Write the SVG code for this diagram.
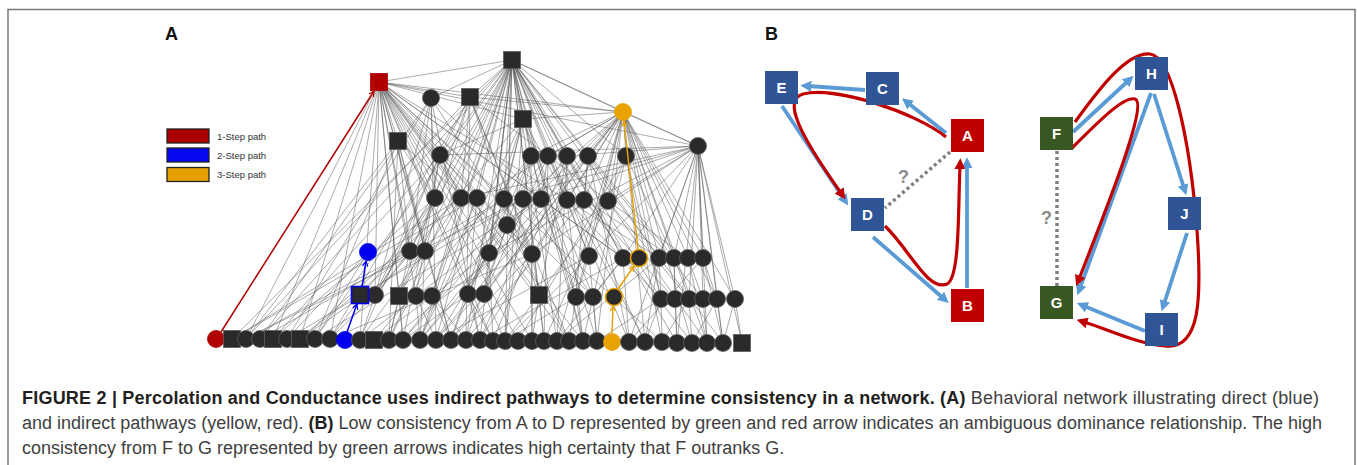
<svg xmlns="http://www.w3.org/2000/svg" width="1357" height="465" viewBox="0 0 1357 465">
<style>
  .frame{fill:none;stroke:#777;stroke-width:1.5}
  .plabel{font-family:"Liberation Sans",Arial,sans-serif;font-weight:bold;font-size:18px;fill:#111}
  .e{fill:none;stroke:#555;stroke-opacity:0.55;stroke-width:0.9}
  .n{fill:#2a2a2a;stroke:#5e5e5e;stroke-width:0.8}
  .lg{stroke:#222;stroke-width:1.3}
  .lgt{font-family:"Liberation Sans",Arial,sans-serif;font-size:9.5px;fill:#333}
  .bn{stroke:none}
  .blue{fill:#2F5597}
  .red{fill:#C00000}
  .green{fill:#385723}
  .bt{font-family:"Liberation Sans",Arial,sans-serif;font-weight:bold;font-size:15px;fill:#fff;text-anchor:middle}
  .ba{fill:none;stroke:#5B9BD5;stroke-width:3.8;marker-end:url(#mb)}
  .ra{fill:none;stroke:#C00000;stroke-width:3.2;marker-end:url(#mr)}
  .dot{fill:none;stroke:#7f7f7f;stroke-width:3.5;stroke-dasharray:3 3}
  .q{font-family:"Liberation Sans",Arial,sans-serif;font-weight:bold;font-size:18px;fill:#8a8a8a}
  .cap{font-family:"Liberation Sans",Arial,sans-serif;font-size:18px;fill:#404040}
  .cap .b{font-weight:bold;fill:#231f20}
</style>
<defs>
  <marker id="mb" viewBox="0 0 10 10" refX="3" refY="5" markerWidth="11" markerHeight="11" markerUnits="userSpaceOnUse" orient="auto">
    <path d="M0,0 L10,5 L0,10 z" fill="#5B9BD5"/>
  </marker>
  <marker id="mr" viewBox="0 0 10 10" refX="3" refY="5" markerWidth="11" markerHeight="11" markerUnits="userSpaceOnUse" orient="auto">
    <path d="M0,0 L10,5 L0,10 z" fill="#C00000"/>
  </marker>
  <marker id="vr" viewBox="0 0 8 8" refX="7" refY="4" markerWidth="7" markerHeight="7" markerUnits="userSpaceOnUse" orient="auto">
    <path d="M1,1 L7,4 L1,7" fill="none" stroke="#B00000" stroke-width="1.4"/>
  </marker>
  <marker id="vb" viewBox="0 0 8 8" refX="7" refY="4" markerWidth="7" markerHeight="7" markerUnits="userSpaceOnUse" orient="auto">
    <path d="M1,1 L7,4 L1,7" fill="none" stroke="#0000EE" stroke-width="1.4"/>
  </marker>
  <marker id="vy" viewBox="0 0 8 8" refX="7" refY="4" markerWidth="7" markerHeight="7" markerUnits="userSpaceOnUse" orient="auto">
    <path d="M1,1 L7,4 L1,7" fill="none" stroke="#E6A000" stroke-width="1.4"/>
  </marker>
</defs>

<rect width="1357" height="465" fill="#fff"/>
<rect class="frame" x="8" y="9.5" width="1347" height="470"/>

<text class="plabel" x="165" y="40">A</text>
<text class="plabel" x="765" y="40">B</text>

<!-- Panel A: network edges -->
<g id="a-connectors">
  <path class="e" d="M512 60L379 82M512 60L431 98M512 60L470 97M512 60L523 119M512 60L623 112M512 60L698 146M512 60L440 155M512 60L531 156M512 60L548 156M512 60L567 156M512 60L626 156M512 60L461 198M512 60L477 198M512 60L504 199M512 60L541 199M512 60L584 200M512 60L507 225M512 60L410 251M512 60L489 253M512 60L589 256M512 60L623 258M512 60L674 258M512 60L375 295M512 60L399 296M512 60L432 296M512 60L484 294M512 60L539 295M512 60L576 297M512 60L661 299M512 60L703 299M512 60L260 339M512 60L315 339M512 60L389 340M512 60L420 340M512 60L436 340M512 60L466 340M512 60L480 340M512 60L505 341M512 60L544 341M512 60L557 341M512 60L583 341M512 60L629 342M512 60L677 343M512 60L723 343"/>
  <path class="e" d="M379 82L470 97M379 82L523 119M379 82L623 112M379 82L698 146M379 82L398 141M379 82L440 155M379 82L435 198M379 82L461 198M379 82L504 199M379 82L541 199M379 82L567 200M379 82L410 251M379 82L425 251M379 82L489 253M379 82L532 254M379 82L623 258M379 82L375 295M379 82L399 296M379 82L416 296M379 82L468 294M379 82L539 295M379 82L593 297M379 82L246 339M379 82L273 339M379 82L300 339M379 82L330 339M379 82L360 340M379 82L403 340M379 82L451 340M379 82L493 341M379 82L532 341M379 82L569 341M379 82L662 342"/>
  <path class="e" d="M623 112L531 156M623 112L548 156M623 112L588 156M623 112L626 156M623 112L477 198M623 112L523 199M623 112L584 200M623 112L608 201M623 112L507 225M623 112L532 254M623 112L589 256M623 112L659 258M623 112L688 258M623 112L703 258M623 112L484 294M623 112L576 297M623 112L661 299M623 112L689 299M623 112L717 299M623 112L735 299M623 112L420 340M623 112L480 340M623 112L557 341M623 112L597 341M623 112L645 342M623 112L692 343M623 112L707 343M623 112L698 146M623 112L523 119M623 112L470 97"/>
  <path class="e" d="M698 146L440 155M698 146L461 198M698 146L504 199M698 146L541 199M698 146L608 201M698 146L567 156M698 146L489 253M698 146L589 256M698 146L674 258M698 146L703 258M698 146L689 299M698 146L703 299M698 146L717 299M698 146L735 299M698 146L629 342M698 146L677 343M698 146L707 343M698 146L723 343M698 146L742 343"/>
  <path class="e" d="M431 98L435 198M431 98L410 251M431 98L375 295M431 98L287 339M431 98L436 340M431 98L480 340M431 98L541 199M431 98L532 254M470 97L440 155M470 97L461 198M470 97L504 199M470 97L425 251M470 97L532 254M470 97L399 296M470 97L330 339M470 97L466 340M470 97L569 341M470 97L608 201M523 119L504 199M523 119L567 200M523 119L489 253M523 119L593 297M523 119L505 341M523 119L597 341M523 119L440 155M523 119L375 295M398 141L435 198M398 141L410 251M398 141L425 251M398 141L315 339M398 141L389 340M398 141L246 339M398 141L451 340M398 141L532 254"/>
  <path class="e" d="M440 155L461 198M440 155L477 198M440 155L375 295M440 155L416 296M440 155L403 340M440 155L360 340M440 155L532 254M531 156L504 199M531 156L523 199M531 156L507 225M531 156L468 294M531 156L532 341M531 156L583 341M548 156L541 199M548 156L589 256M548 156L484 294M548 156L544 341M548 156L645 342M567 156L567 200M567 156L623 258M567 156L539 295M567 156L557 341M567 156L493 341M588 156L584 200M588 156L608 201M588 156L659 258M588 156L576 297M588 156L629 342M626 156L608 201M626 156L674 258M626 156L661 299M626 156L662 342M626 156L518 341"/>
  <path class="e" d="M435 198L410 251M435 198L375 295M435 198L273 339M435 198L330 339M461 198L425 251M461 198L432 296M461 198L389 340M461 198L300 339M477 198L489 253M477 198L468 294M477 198L420 340M477 198L232 339M504 199L532 254M504 199L539 295M504 199L451 340M504 199L260 339M523 199L589 256M523 199L593 297M523 199L505 341M523 199L287 339M541 199L623 258M541 199L576 297M541 199L480 340M541 199L315 339M567 200L659 258M567 200L661 299M567 200L583 341M567 200L436 340M584 200L674 258M584 200L675 299M584 200L692 343M608 201L688 258M608 201L689 299M608 201L707 343M608 201L544 341M507 225L489 253M507 225L484 294M507 225L466 340M507 225L569 341M507 225L403 340"/>
  <path class="e" d="M410 251L375 295M410 251L389 340M410 251L246 339M425 251L399 296M425 251L420 340M425 251L360 340M489 253L468 294M489 253L493 341M489 253L374 340M532 254L539 295M532 254L532 341M532 254L451 340M589 256L576 297M589 256L597 341M589 256L505 341M623 258L593 297M623 258L629 342M623 258L557 341M659 258L661 299M659 258L645 342M674 258L675 299M674 258L677 343M688 258L703 299M688 258L707 343M703 258L717 299M703 258L723 343M368 252L315 339M368 252L287 339"/>
  <path class="e" d="M375 295L360 340M375 295L330 339M399 296L389 340M399 296L403 340M416 296L420 340M416 296L436 340M432 296L451 340M432 296L466 340M468 294L480 340M468 294L493 341M484 294L505 341M539 295L532 341M539 295L544 341M576 297L569 341M576 297L583 341M593 297L597 341M661 299L662 342M661 299L645 342M675 299L677 343M689 299L692 343M703 299L707 343M717 299L723 343M735 299L742 343"/>
  <path class="e" d="M532 254L330 339M589 256L436 340M623 258L480 340M659 258L557 341M703 258L629 342M541 199L360 340M567 200L389 340M584 200L466 340M608 201L505 341M523 199L246 339M504 199L300 339M461 198L232 339M548 156L403 340M567 156L420 340M588 156L451 340M531 156L374 340M626 156L583 341M440 155L273 339M431 98L260 339M470 97L246 339M523 119L420 340M523 119L451 340M698 146L532 254M698 146L623 258M698 146L659 258M623 112L436 340M512 60L232 339M512 60L645 342M379 82L583 341M379 82L518 341M410 251L300 339M489 253L436 340M468 294L403 340M576 297L505 341M661 299L597 341M689 299L662 342M735 299L723 343M717 299L692 343"/>
</g>

<!-- Panel A: nodes -->
<g id="a-n-t1"><rect class="n" x="370.5" y="73.5" width="17" height="17" style="fill:#B00000;stroke:#B00000"/></g>
<g id="a-n-t2"><rect class="n" x="503.5" y="51.5" width="17" height="17"/></g>
<g id="a-n-n1"><circle class="n" cx="431" cy="98" r="8.5"/></g>
<g id="a-n-n2"><rect class="n" x="461.5" y="88.5" width="17" height="17"/></g>
<g id="a-n-n3"><rect class="n" x="514.5" y="110.5" width="17" height="17"/></g>
<g id="a-n-y1"><circle class="n" cx="623" cy="112" r="8.5" style="fill:#E8A300;stroke:#E8A300"/></g>
<g id="a-n-n4"><rect class="n" x="389.5" y="132.5" width="17" height="17"/></g>
<g id="a-n-n5"><circle class="n" cx="698" cy="146" r="8.5"/></g>
<g id="a-n-a1"><circle class="n" cx="440" cy="155" r="8.5"/></g>
<g id="a-n-a2"><circle class="n" cx="531" cy="156" r="8.5"/></g>
<g id="a-n-a3"><circle class="n" cx="548" cy="156" r="8.5"/></g>
<g id="a-n-a4"><circle class="n" cx="567" cy="156" r="8.5"/></g>
<g id="a-n-a5"><circle class="n" cx="588" cy="156" r="8.5"/></g>
<g id="a-n-a6"><circle class="n" cx="626" cy="156" r="8.5"/></g>
<g id="a-n-b1"><circle class="n" cx="435" cy="198" r="8.5"/></g>
<g id="a-n-b2"><circle class="n" cx="461" cy="198" r="8.5"/></g>
<g id="a-n-b3"><circle class="n" cx="477" cy="198" r="8.5"/></g>
<g id="a-n-b4"><circle class="n" cx="504" cy="199" r="8.5"/></g>
<g id="a-n-b5"><circle class="n" cx="523" cy="199" r="8.5"/></g>
<g id="a-n-b6"><circle class="n" cx="541" cy="199" r="8.5"/></g>
<g id="a-n-b7"><circle class="n" cx="567" cy="200" r="8.5"/></g>
<g id="a-n-b8"><circle class="n" cx="584" cy="200" r="8.5"/></g>
<g id="a-n-b9"><circle class="n" cx="608" cy="201" r="8.5"/></g>
<g id="a-n-b10"><circle class="n" cx="507" cy="225" r="8.5"/></g>
<g id="a-n-c1"><circle class="n" cx="368" cy="252" r="8.5" style="fill:#0000EE;stroke:#0000EE"/></g>
<g id="a-n-c2"><circle class="n" cx="410" cy="251" r="8.5"/></g>
<g id="a-n-c3"><circle class="n" cx="425" cy="251" r="8.5"/></g>
<g id="a-n-c4"><circle class="n" cx="489" cy="253" r="8.5"/></g>
<g id="a-n-c5"><circle class="n" cx="532" cy="254" r="8.5"/></g>
<g id="a-n-c6"><circle class="n" cx="589" cy="256" r="8.5"/></g>
<g id="a-n-c7"><circle class="n" cx="623" cy="258" r="8.5"/></g>
<g id="a-n-c8"><circle class="n" cx="639" cy="258" r="8.5" style="stroke:#E8A300;stroke-width:1.6"/></g>
<g id="a-n-c9"><circle class="n" cx="659" cy="258" r="8.5"/></g>
<g id="a-n-c10"><circle class="n" cx="674" cy="258" r="8.5"/></g>
<g id="a-n-c11"><circle class="n" cx="688" cy="258" r="8.5"/></g>
<g id="a-n-c12"><circle class="n" cx="703" cy="258" r="8.5"/></g>
<g id="a-n-d2"><circle class="n" cx="375" cy="295" r="8.5"/></g>
<g id="a-n-d1"><rect class="n" x="351.5" y="286.5" width="17" height="17" style="stroke:#0000EE;stroke-width:1.6"/></g>
<g id="a-n-d3"><rect class="n" x="390.5" y="287.5" width="17" height="17"/></g>
<g id="a-n-d4"><circle class="n" cx="416" cy="296" r="8.5"/></g>
<g id="a-n-d5"><circle class="n" cx="432" cy="296" r="8.5"/></g>
<g id="a-n-d6"><circle class="n" cx="468" cy="294" r="8.5"/></g>
<g id="a-n-d7"><circle class="n" cx="484" cy="294" r="8.5"/></g>
<g id="a-n-d8"><rect class="n" x="530.5" y="286.5" width="17" height="17"/></g>
<g id="a-n-d9"><circle class="n" cx="576" cy="297" r="8.5"/></g>
<g id="a-n-d10"><circle class="n" cx="593" cy="297" r="8.5"/></g>
<g id="a-n-d11"><circle class="n" cx="614" cy="297" r="8.5" style="stroke:#E8A300;stroke-width:1.6"/></g>
<g id="a-n-d12"><circle class="n" cx="661" cy="299" r="8.5"/></g>
<g id="a-n-d13"><circle class="n" cx="675" cy="299" r="8.5"/></g>
<g id="a-n-d14"><circle class="n" cx="689" cy="299" r="8.5"/></g>
<g id="a-n-d15"><circle class="n" cx="703" cy="299" r="8.5"/></g>
<g id="a-n-d16"><circle class="n" cx="717" cy="299" r="8.5"/></g>
<g id="a-n-d17"><circle class="n" cx="735" cy="299" r="8.5"/></g>
<g id="a-n-e1"><circle class="n" cx="216" cy="339" r="8.5" style="fill:#B00000;stroke:#B00000"/></g>
<g id="a-n-e2"><rect class="n" x="223.5" y="330.5" width="17" height="17"/></g>
<g id="a-n-e3"><circle class="n" cx="246" cy="339" r="8.5"/></g>
<g id="a-n-e4"><circle class="n" cx="260" cy="339" r="8.5"/></g>
<g id="a-n-e5"><rect class="n" x="264.5" y="330.5" width="17" height="17"/></g>
<g id="a-n-e6"><circle class="n" cx="287" cy="339" r="8.5"/></g>
<g id="a-n-e7"><rect class="n" x="291.5" y="330.5" width="17" height="17"/></g>
<g id="a-n-e8"><circle class="n" cx="315" cy="339" r="8.5"/></g>
<g id="a-n-e9"><circle class="n" cx="330" cy="339" r="8.5"/></g>
<g id="a-n-e10"><circle class="n" cx="345" cy="340" r="8.5" style="fill:#0000EE;stroke:#0000EE"/></g>
<g id="a-n-e11"><circle class="n" cx="360" cy="340" r="8.5"/></g>
<g id="a-n-e12"><rect class="n" x="365.5" y="331.5" width="17" height="17"/></g>
<g id="a-n-e13"><circle class="n" cx="389" cy="340" r="8.5"/></g>
<g id="a-n-e14"><circle class="n" cx="403" cy="340" r="8.5"/></g>
<g id="a-n-e15"><circle class="n" cx="420" cy="340" r="8.5"/></g>
<g id="a-n-e16"><circle class="n" cx="436" cy="340" r="8.5"/></g>
<g id="a-n-e17"><circle class="n" cx="451" cy="340" r="8.5"/></g>
<g id="a-n-e18"><circle class="n" cx="466" cy="340" r="8.5"/></g>
<g id="a-n-e19"><circle class="n" cx="480" cy="340" r="8.5"/></g>
<g id="a-n-e20"><circle class="n" cx="493" cy="341" r="8.5"/></g>
<g id="a-n-e21"><circle class="n" cx="505" cy="341" r="8.5"/></g>
<g id="a-n-e22"><circle class="n" cx="518" cy="341" r="8.5"/></g>
<g id="a-n-e23"><circle class="n" cx="532" cy="341" r="8.5"/></g>
<g id="a-n-e24"><circle class="n" cx="544" cy="341" r="8.5"/></g>
<g id="a-n-e25"><circle class="n" cx="557" cy="341" r="8.5"/></g>
<g id="a-n-e26"><circle class="n" cx="569" cy="341" r="8.5"/></g>
<g id="a-n-e27"><circle class="n" cx="583" cy="341" r="8.5"/></g>
<g id="a-n-e28"><circle class="n" cx="597" cy="341" r="8.5"/></g>
<g id="a-n-e29"><circle class="n" cx="612" cy="342" r="8.5" style="fill:#E8A300;stroke:#E8A300"/></g>
<g id="a-n-e30"><circle class="n" cx="629" cy="342" r="8.5"/></g>
<g id="a-n-e31"><circle class="n" cx="645" cy="342" r="8.5"/></g>
<g id="a-n-e32"><circle class="n" cx="662" cy="342" r="8.5"/></g>
<g id="a-n-e33"><circle class="n" cx="677" cy="343" r="8.5"/></g>
<g id="a-n-e34"><circle class="n" cx="692" cy="343" r="8.5"/></g>
<g id="a-n-e35"><circle class="n" cx="707" cy="343" r="8.5"/></g>
<g id="a-n-e36"><circle class="n" cx="723" cy="343" r="8.5"/></g>
<g id="a-n-e37"><rect class="n" x="733.5" y="334.5" width="17" height="17"/></g>

<!-- Panel A: highlighted paths -->
<g id="a-paths" fill="none" stroke-width="1.5">
  <path d="M221 332L374 91" stroke="#B00000" marker-end="url(#vr)"/>
  <path d="M347 332L357 304" stroke="#0000EE" marker-end="url(#vb)"/>
  <path d="M362 287L366 261" stroke="#0000EE" marker-end="url(#vb)"/>
  <path d="M612 333L613 306" stroke="#E6A000" marker-end="url(#vy)"/>
  <path d="M618 289L634 266" stroke="#E6A000" marker-end="url(#vy)"/>
  <path d="M638 249L624 121" stroke="#E6A000" marker-end="url(#vy)"/>
</g>

<!-- Panel A: legend -->
<g id="a-legend">
  <rect class="lg" x="167" y="129" width="42" height="14" fill="#AA0000"/>
  <rect class="lg" x="167" y="148" width="42" height="14" fill="#0808F0"/>
  <rect class="lg" x="167" y="167.5" width="42" height="14" fill="#E6A100"/>
  <text class="lgt" x="217" y="139.5">1-Step path</text>
  <text class="lgt" x="217" y="158.5">2-Step path</text>
  <text class="lgt" x="217" y="178">3-Step path</text>
</g>

<!-- Panel B: connectors -->
<g id="b-connectors">
  <path class="dot" d="M950 152L885 208"/>
  <path class="dot" d="M1057 151L1057 286"/>
  <path class="ba" d="M865 90L808 86"/>
  <path class="ba" d="M946 133L908 103"/>
  <path class="ba" d="M782 106L844 199"/>
  <path class="ba" d="M873 237L943 298"/>
  <path class="ba" d="M967 288L967 165"/>
  <path class="ba" d="M1073 132L1128 81"/>
  <path class="ba" d="M1151 93L1080 288"/>
  <path class="ba" d="M1154 94L1184 188"/>
  <path class="ba" d="M1187 233L1164 304"/>
  <path class="ba" d="M1145 331L1084 306"/>
  <path class="ra" d="M946 137C915 112 835 86 803 94C782 100 800 135 841 193"/>
  <path class="ra" d="M885 226C910 250 928 292 947 284C960 278 958 210 960 166"/>
  <path class="ra" d="M1075 122C1095 95 1125 52 1150 54C1172 56 1190 140 1197 230C1202 300 1200 350 1165 346C1135 343 1110 330 1084 322"/>
  <path class="ra" d="M1072 148C1100 120 1124 96 1135 99C1148 104 1110 200 1079 279"/>
  <text class="q" x="898" y="183">?</text>
  <text class="q" x="1041" y="224">?</text>
</g>

<!-- Panel B: nodes -->
<g id="b-node-e"><rect class="bn blue" x="765" y="71" width="33" height="33"/><text class="bt" x="781.5" y="93">E</text></g>
<g id="b-node-c"><rect class="bn blue" x="866" y="72" width="33" height="33"/><text class="bt" x="882.5" y="94">C</text></g>
<g id="b-node-a"><rect class="bn red" x="951" y="119" width="33" height="33"/><text class="bt" x="967.5" y="141">A</text></g>
<g id="b-node-d"><rect class="bn blue" x="851" y="198" width="33" height="33"/><text class="bt" x="867.5" y="220">D</text></g>
<g id="b-node-b"><rect class="bn red" x="951" y="289" width="33" height="33"/><text class="bt" x="967.5" y="311">B</text></g>
<g id="b-node-f"><rect class="bn green" x="1040" y="117" width="33" height="33"/><text class="bt" x="1056.5" y="139">F</text></g>
<g id="b-node-h"><rect class="bn blue" x="1135" y="57" width="33" height="33"/><text class="bt" x="1151.5" y="79">H</text></g>
<g id="b-node-j"><rect class="bn blue" x="1168" y="197" width="33" height="33"/><text class="bt" x="1184.5" y="219">J</text></g>
<g id="b-node-g"><rect class="bn green" x="1040" y="286" width="33" height="33"/><text class="bt" x="1056.5" y="308">G</text></g>
<g id="b-node-i"><rect class="bn blue" x="1145" y="313" width="33" height="33"/><text class="bt" x="1161.5" y="335">I</text></g>

<!-- Caption -->
<g id="caption">
  <text class="cap" x="22" y="404" textLength="1297" lengthAdjust="spacing"><tspan class="b">FIGURE 2 | Percolation and Conductance uses indirect pathways to determine consistency in a network. (A)</tspan> Behavioral network illustrating direct (blue)</text>
  <text class="cap" x="22" y="429" textLength="1300" lengthAdjust="spacing">and indirect pathways (yellow, red). <tspan class="b">(B)</tspan> Low consistency from A to D represented by green and red arrow indicates an ambiguous dominance relationship. The high</text>
  <text class="cap" x="22" y="454">consistency from F to G represented by green arrows indicates high certainty that F outranks G.</text>
</g>
</svg>
